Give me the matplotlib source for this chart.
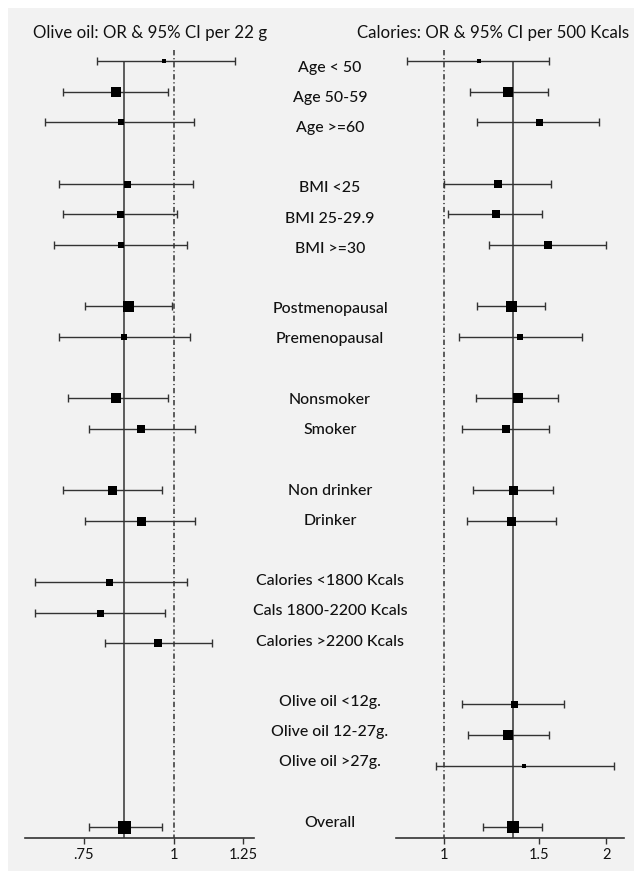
import matplotlib
matplotlib.use('Agg')
import matplotlib.pyplot as plt
import numpy as np
from matplotlib.patches import Rectangle

nan = np.nan

labels = ["Age < 50", "Age 50-59", "Age >=60",
          "BMI <25", "BMI 25-29.9", "BMI >=30",
          "Postmenopausal", "Premenopausal",
          "Nonsmoker", "Smoker",
          "Non drinker", "Drinker",
          "Calories <1800 Kcals", "Cals 1800-2200 Kcals", "Calories >2200 Kcals",
          "Olive oil <12g.", "Olive oil 12-27g.", "Olive oil >27g.",
          "Overall"]
group_sizes = [3, 3, 2, 2, 2, 3, 3, 1]

oil_or = [0.970, 0.831, 0.844, 0.862, 0.842, 0.844, 0.863, 0.853, 0.831, 0.902,
          0.822, 0.901, 0.812, 0.791, 0.951, nan, nan, nan, 0.853]
oil_lo = [0.781, 0.702, 0.663, 0.692, 0.702, 0.682, 0.753, 0.692, 0.713, 0.763,
          0.702, 0.753, 0.642, 0.642, 0.803, nan, nan, nan, 0.763]
oil_hi = [1.218, 0.981, 1.068, 1.063, 1.010, 1.043, 0.994, 1.054, 0.981, 1.071,
          0.962, 1.071, 1.043, 0.972, 1.130, nan, nan, nan, 0.962]
oil_weight = [5, 10, 6, 7, 7, 6.5, 11, 5.5, 10.5, 8, 9, 9, 7, 7, 8, nan, nan, nan, 13]

cal_or = [1.160, 1.316, 1.500, 1.259, 1.250, 1.561, 1.329, 1.382, 1.373, 1.301,
          1.343, 1.329, nan, nan, nan, 1.350, 1.316, 1.407, 1.343]
cal_lo = [0.853, 1.117, 1.150, 1.000, 1.019, 1.212, 1.150, 1.065, 1.148, 1.080,
          1.132, 1.102, nan, nan, nan, 1.080, 1.109, 0.965, 1.183]
cal_hi = [1.568, 1.561, 1.936, 1.579, 1.522, 1.997, 1.537, 1.800, 1.629, 1.564,
          1.593, 1.611, nan, nan, nan, 1.672, 1.568, 2.066, 1.520]
cal_weight = [5, 9.5, 7, 8, 8, 8, 11, 6, 10, 8, 9, 9, nan, nan, nan, 7, 9.5, 4, 12.7]

oil_ticks = [0.75, 1, 1.25]
oil_ticklabels = [".75", "1", "1.25"]
cal_ticks = [1, 1.5, 2]
cal_ticklabels = ["1", "1.5", "2"]

title_oil = "Olive oil: OR & 95% CI per 22 g"
title_cal = "Calories: OR & 95% CI per 500 Kcals"

# ---- layout ----
FONT = ['Lato', 'DejaVu Sans']
plt.rcParams['font.family'] = FONT
W, H = 634, 871
fig = plt.figure(figsize=(W / 100, H / 100), dpi=100)
fig.patch.set_facecolor('white')
fig.patches.append(Rectangle((8 / W, 0), 1 - 8 / W, 1 - 8 / H, transform=fig.transFigure,
                             facecolor='#f2f2f2', edgecolor='none', zorder=-10))

# row positions from group structure
rows = []
r = 0
for g in group_sizes:
    for i in range(g):
        rows.append(r)
        r += 1
    r += 1
rows = np.array(rows, dtype=float)

row0_px, row_step = 61.0, 30.64
ax_top_px, ax_bot_px = 45.0, 838.0
ylim_top = (ax_top_px - row0_px) / row_step
ylim_bot = (ax_bot_px - row0_px) / row_step


def make_panel(x0_px, x1_px, xlim, vals, lo, hi, wts, ticks, ticklabels):
    ax = fig.add_axes([x0_px / W, 1 - ax_bot_px / H, (x1_px - x0_px) / W,
                       (ax_bot_px - ax_top_px) / H])
    ax.set_facecolor('none')
    ax.set_xscale('log')
    ax.set_xlim(*xlim)
    ax.set_ylim(ylim_bot, ylim_top)
    vals, lo, hi, wts = map(np.asarray, (vals, lo, hi, wts))
    ok = ~np.isnan(vals)
    overall = vals[-1]
    ax.vlines(overall, 0, ylim_bot, color='#333333', lw=1.1, zorder=1)
    ax.vlines(1, ylim_top + 0.16, ylim_bot, color='#333333', lw=1.1,
              linestyles=(0, (3.5, 1.8, 0.8, 1.8)), zorder=1)
    for y, v, l, h, w in zip(rows[ok], vals[ok], lo[ok], hi[ok], wts[ok]):
        ax.errorbar([v], [y], xerr=[[v - l], [h - v]], fmt='none', ecolor='#333333',
                    elinewidth=1.0, capsize=2.6, capthick=1.0, zorder=2)
        ax.plot([v], [y], marker='s', ms=w * 0.72, color='black', mec='black',
                mew=0, ls='none', zorder=3)
    for s in ['top', 'right', 'left']:
        ax.spines[s].set_visible(False)
    ax.spines['bottom'].set_linewidth(1.2)
    ax.spines['bottom'].set_color('#333333')
    ax.set_yticks([])
    ax.xaxis.set_minor_locator(matplotlib.ticker.NullLocator())
    ax.set_xticks(ticks)
    ax.set_xticklabels(ticklabels)
    ax.tick_params(axis='x', direction='out', length=4.3, width=1.0, color='#333333',
                   labelsize=10.5, pad=3, labelcolor='#111111')
    return ax


ax1 = make_panel(25, 254, (0.621, 1.294), oil_or, oil_lo, oil_hi, oil_weight,
                 oil_ticks, oil_ticklabels)
ax2 = make_panel(395.7, 624, (0.814, 2.157), cal_or, cal_lo, cal_hi, cal_weight,
                 cal_ticks, cal_ticklabels)

# titles
fig.text(150 / W, 1 - 33 / H, title_oil, ha='center', va='center', fontsize=12.2,
         color='#111111')
fig.text(493.5 / W, 1 - 33 / H, title_cal, ha='center', va='center', fontsize=12.2,
         color='#111111')

# labels
for lab, rr in zip(labels, rows):
    ypx = 67.7 + 30.2 * rr
    fig.text(330 / W, 1 - ypx / H, lab, ha='center', va='center', fontsize=11.4,
             fontweight='medium', color='#111111')

fig.savefig('out.png', dpi=100, facecolor=fig.get_facecolor())
